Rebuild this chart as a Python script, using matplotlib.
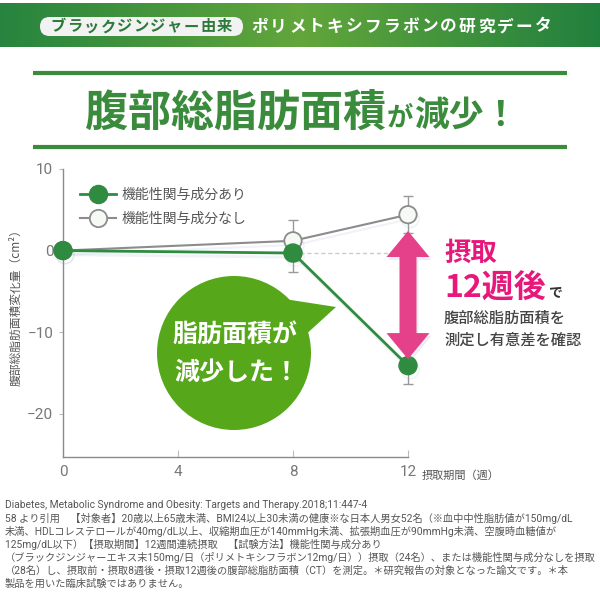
import numpy as np
import matplotlib.pyplot as plt
import matplotlib.patches as mpatches
import matplotlib.patheffects as pe
import matplotlib.transforms as mtransforms
from matplotlib import font_manager
from matplotlib.colors import LinearSegmentedColormap

plt.rcParams['font.family'] = ['Noto Sans CJK JP', 'DejaVu Sans']
names = {f.name for f in font_manager.fontManager.ttflist}
NARROW = 'Liberation Sans Narrow' if 'Liberation Sans Narrow' in names else 'Roboto'

# data
weeks = [0, 8, 12]
with_vals = [0.0, -0.3, -14.1]
with_err = [0.0, 2.3, 2.3]
without_vals = [0.0, 1.2, 4.4]
without_err = [0.0, 2.5, 2.3]
series_labels = ['機能性関与成分あり', '機能性関与成分なし']
xticks = [0, 4, 8, 12]
yticks = [10, 0, -10, -20]

footer = [
    'Diabetes, Metabolic Syndrome and Obesity: Targets and Therapy.2018;11:447-4',
    '58 より引用　【対象者】20歳以上65歳未満、BMI24以上30未満の健康※な日本人男女52名（※血中中性脂肪値が150mg/dL',
    '未満、HDLコレステロールが40mg/dL以上、収縮期血圧が140mmHg未満、拡張期血圧が90mmHg未満、空腹時血糖値が',
    '125mg/dL以下）【摂取期間】12週間連続摂取　【試験方法】機能性関与成分あり',
    '（ブラックジンジャーエキス末150mg/日（ポリメトキシフラボン12mg/日））摂取（24名）、または機能性関与成分なしを摂取',
    '（28名）し、摂取前・摂取8週後・摂取12週後の腹部総脂肪面積（CT）を測定。＊研究報告の対象となった論文です。＊本',
    '製品を用いた臨床試験ではありません。',
]

GREEN = '#2f8b3f'
TITLE_GREEN = '#3a8c3c'
GRAY = '#8c8c8c'
PINK = '#e5408a'
PINK_TXT = '#e8177c'


def spaced(ax, x0, y, s, pitch, **kw):
    for i, ch in enumerate(s):
        ax.text(x0 + pitch * (i + 0.5), y, ch, ha='center', va='center', **kw)


fig = plt.figure(figsize=(6, 6), dpi=100)
bg = fig.add_axes([0, 0, 1, 1])
bg.set_xlim(0, 600)
bg.set_ylim(600, 0)
bg.axis('off')
r = fig.canvas.get_renderer()

# header band
cmap = LinearSegmentedColormap.from_list('hdr', ['#27843f', '#62a63b', '#22803e'])
grad = np.linspace(0, 1, 256)[None, :]
bg.imshow(grad, extent=[0, 600, 47, 3], aspect='auto', cmap=cmap, zorder=0)
bg.add_patch(mpatches.FancyBboxPatch((40, 17), 203, 19,
                                     boxstyle='round,pad=0,rounding_size=9.5',
                                     fc='#f2f2f2', ec='none', zorder=1))
spaced(bg, 50, 26.5, 'ブラックジンジャー由来', 16.6, fontsize=11, fontweight='bold',
       color='#2c7a39', zorder=2)
spaced(bg, 250, 26.5, 'ポリメトキシフラボンの研究データ', 18.9, fontsize=12,
       fontweight='bold', color='white', zorder=2)

# title with rules
for yy in (73, 147):
    bg.plot([33, 567], [yy, yy], color=TITLE_GREEN, lw=3, solid_capstyle='butt')

x = 85
for s, fs in (('腹部総脂肪面積', 31), ('が', 19), ('減少！', 25)):
    t = bg.text(x, 126, s, fontsize=fs, fontweight='bold', color=TITLE_GREEN,
                ha='left', va='baseline')
    x = t.get_window_extent(r).x1 + 1

# chart
ax = fig.add_axes([63 / 600, 1 - 457 / 600, 345 / 600, 288 / 600])
ax.patch.set_alpha(0)
ax.set_xlim(0, 12)
ax.set_ylim(-25.3, 10)
for sp in ('top', 'right'):
    ax.spines[sp].set_visible(False)
for sp in ('left', 'bottom'):
    ax.spines[sp].set_color('#8a8a8a')
    ax.spines[sp].set_linewidth(1)
ax.set_xticks(xticks)
ax.set_yticks(yticks)
ax.tick_params(axis='x', direction='in', length=5, color='#bbbbbb', pad=6,
               labelsize=11, labelcolor='#777777')
ax.tick_params(axis='y', direction='out', length=3, color='#bbbbbb', pad=4,
               labelsize=11, labelcolor='#777777')
for lab in ax.get_xticklabels() + ax.get_yticklabels():
    lab.set_family(NARROW)

ax.set_ylabel('腹部総脂肪面積変化量（cm²）', fontsize=8.5, color='#555555')
ax.yaxis.set_label_coords(-0.118, 0.53)
ax.annotate('摂取期間（週）', xy=(1, 0), xycoords='axes fraction',
            xytext=(10, -13), textcoords='offset points', va='center',
            fontsize=8, color='#555555')

shadow = [pe.SimpleLineShadow(offset=(1.5, -3), shadow_color='#7f9fc0', alpha=0.12),
          pe.Normal()]

ax.plot([weeks[1], weeks[2]], [with_vals[1], with_vals[1]], ls=(0, (3, 2)),
        color='#cccccc', lw=1, zorder=1)

for vals, errs in ((without_vals, without_err), (with_vals, with_err)):
    eb = ax.errorbar(weeks, vals, yerr=errs, fmt='none', ecolor='#999999',
                     elinewidth=1, capsize=3.5, capthick=1, zorder=2)
    for a in eb.get_children():
        a.set_clip_on(False)
h2, = ax.plot(weeks, without_vals, color=GRAY, lw=1.5, marker='o', ms=12.5,
              mfc='#f6faf4', mec=GRAY, mew=1.3, zorder=3, path_effects=shadow,
              clip_on=False)
h1, = ax.plot(weeks, with_vals, color=GREEN, lw=2, marker='o', ms=13,
              mfc=GREEN, mec=GREEN, zorder=4, path_effects=shadow, clip_on=False)

leg = ax.legend([h1, h2], series_labels, loc='upper left', bbox_to_anchor=(0.05, 0.935),
                frameon=False, fontsize=10, handlelength=2.6, handletextpad=0.4,
                labelspacing=0.75, borderpad=0, borderaxespad=0)
for t in leg.get_texts():
    t.set_color('#555555')
for h in leg.legend_handles:
    h.set_path_effects([])

# pink double arrow at week 12 (built in pixel space)
arrow_top, arrow_bottom = 2.4, -13.3
cx, ty = ax.transData.transform((weeks[2], arrow_top))
_, by = ax.transData.transform((weeks[2], arrow_bottom))
hw, hl, sw = 21.5, 26, 8.5
pts = [(cx, ty), (cx + hw, ty - hl), (cx + sw, ty - hl), (cx + sw, by + hl),
       (cx + hw, by + hl), (cx, by), (cx - hw, by + hl), (cx - sw, by + hl),
       (cx - sw, ty - hl), (cx - hw, ty - hl)]
ax.add_patch(mpatches.Polygon([(px + 2, py - 3) for px, py in pts], closed=True,
                              fc='#7f8fa0', alpha=0.15, ec='none', clip_on=False,
                              transform=mtransforms.IdentityTransform(), zorder=5))
ax.add_patch(mpatches.Polygon(pts, closed=True, fc=PINK, ec='none', clip_on=False,
                              transform=mtransforms.IdentityTransform(), zorder=6))

# speech bubble
bg.add_patch(mpatches.Circle((234, 353), 77, fc='#56a81a', ec='none', zorder=2))
bg.add_patch(mpatches.Polygon([(278, 298), (336, 307), (302, 338)], closed=True,
                              fc='#56a81a', ec='none', zorder=2))
bg.text(235, 335, '脂肪面積が', fontsize=18, fontweight='bold', color='white',
        ha='center', va='center', zorder=3)
bg.text(237, 373, '減少した！', fontsize=18, fontweight='bold', color='white',
        ha='center', va='center', zorder=3)

# right-hand notes
bg.text(444, 253, '摂取', fontsize=19, fontweight='bold', color=PINK_TXT,
        ha='left', va='center')
t = bg.text(444, 297, '12週後', fontsize=23, fontweight='bold', color=PINK_TXT,
            ha='left', va='baseline')
bg.text(t.get_window_extent(r).x1 + 2, 297, 'で', fontsize=10, fontweight='bold',
        color='#333333', ha='left', va='baseline')
bg.text(444, 318, '腹部総脂肪面積を', fontsize=11, fontweight='medium',
        color='#444444', ha='left', va='center')
bg.text(444, 340, '測定し有意差を確認', fontsize=11, fontweight='medium',
        color='#444444', ha='left', va='center')

# footer, shrunk so the widest line fits
texts = [bg.text(5, 505 + 13.2 * i, line, fontsize=8, color='#555555', ha='left',
                 va='center', family=[NARROW, 'Noto Sans CJK JP'])
         for i, line in enumerate(footer)]
widest = max(t.get_window_extent(r).width for t in texts)
for t in texts:
    t.set_fontsize(8 * min(1, 590 / widest))

fig.savefig('out.png', dpi=100)
